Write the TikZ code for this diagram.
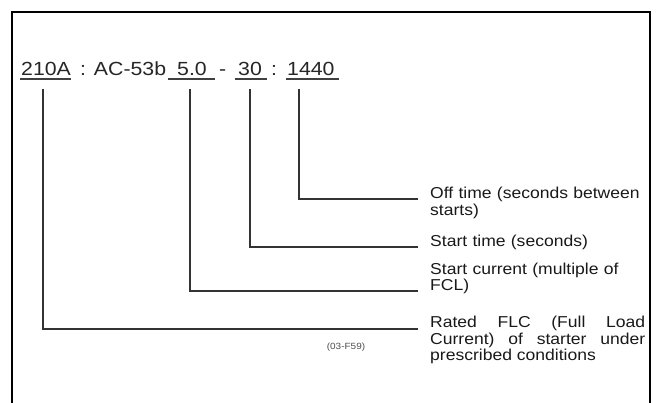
\documentclass[tikz,border=0pt]{standalone}
\usepackage{fontspec}
\setmainfont{Liberation Sans}[FakeStretch=1.11]
\newfontfamily\codefont{Liberation Sans}[FakeStretch=1.12]
\usetikzlibrary{calc}
\hyphenpenalty=10000
\exhyphenpenalty=10000
\begin{document}
\begin{tikzpicture}[x=1pt,y=-1pt,
  frame/.style={line width=2.4pt,black},
  conn/.style={line width=1.3pt,black!80},
  uline/.style={line width=1.1pt,black!75},
  code/.style={inner sep=0pt,anchor=base west,font=\codefont\fontsize{19}{20}\selectfont,text=black!85},
  lab/.style={inner sep=0pt,anchor=base west,text width=215pt,align=justify,font=\fontsize{15.8}{16.5}\selectfont,text=black!90},
  labl/.style={lab,align=left},
  fig/.style={inner sep=0pt,font=\fontsize{9}{10}\selectfont,text=black!70}]
\useasboundingbox (0,0) rectangle (659,403);
\draw[frame] (12,405) -- (12,12) -- (650,12) -- (650,405);
% code line
\node[code] (c1) at (21,76) {210A};
\node[code] (c2) at (80,76) {: AC-53b};
\node[code] (c3) at (177,76) {5.0};
\node[code] (c4) at (219,76) {-};
\node[code] (c5) at (238,76) {30};
\node[code] (c6) at (271,76) {:};
\node[code] (c7) at (287,76) {1440};
\draw[uline] ($(c1.base west)+(-1,3)$) -- ($(c1.base east)+(0,3)$);
\draw[uline] ($(c3.base west)+(-9,3)$) -- ($(c3.base east)+(8,3)$);
\draw[uline] ($(c5.base west)+(-3,3)$) -- ($(c5.base east)+(5,3)$);
\draw[uline] ($(c7.base west)+(-1,3)$) -- ($(c7.base east)+(4,3)$);
% labels
\node[labl] (l1) at (430,199) {Off time (seconds between\\starts)};
\node[labl] (l2) at (430,247) {Start time (seconds)};
\node[labl] (l3) at (430,274.5) {Start current (multiple of\\FCL)};
\node[lab] (l4) at (430,328) {Rated FLC (Full Load Current) of starter under prescribed conditions};
\node[fig] (f) at (346,347) {(03-F59)};
% connectors
\draw[conn] ($(c7.base west)+(12,13)$) |- ($(l1.base west)+(-12,0)$);
\draw[conn] ($(c5.base west)+(12,13)$) |- ($(l2.base west)+(-12,0)$);
\draw[conn] ($(c3.base west)+(13,13)$) |- ($(l3.base west)+(-12,16.5)$);
\draw[conn] ($(c1.base west)+(22,13)$) |- ($(l4.base west)+(-12,1)$);
\end{tikzpicture}
\end{document}
